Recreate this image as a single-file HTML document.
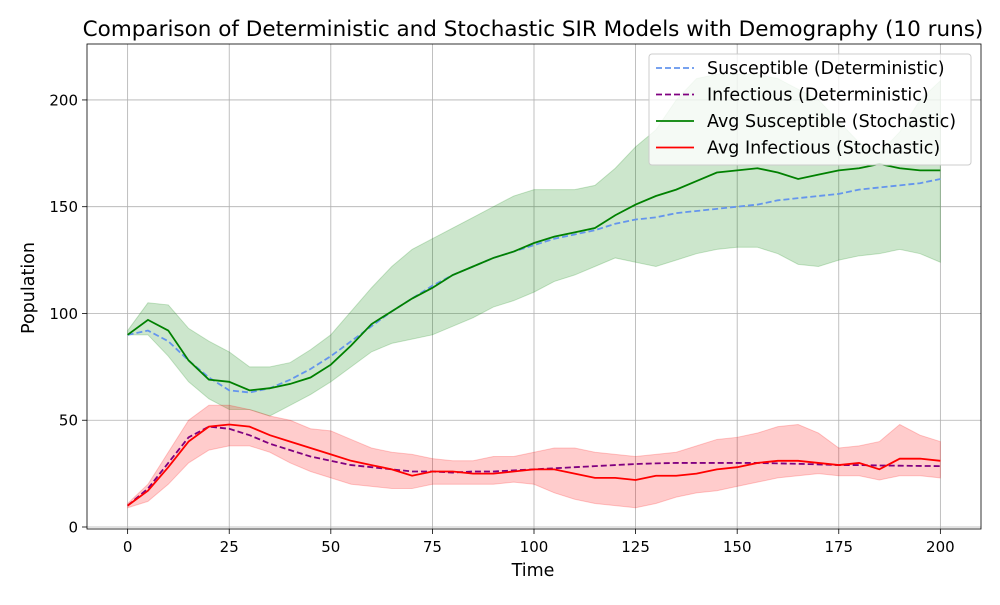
<!DOCTYPE html>
<html><head><meta charset="utf-8"><style>
body{margin:0;background:#fff;}
svg{font-family:"DejaVu Sans","Liberation Sans",sans-serif;}
</style></head><body>
<svg id="c" width="1000" height="600" xmlns="http://www.w3.org/2000/svg">
<rect width="1000" height="600" fill="#fff"/>
<text x="533" y="36" font-size="21.5" text-anchor="middle">Comparison of Deterministic and Stochastic SIR Models with Demography (10 runs)</text>
<g id="grid"></g><g id="bands"></g><g id="lines"></g><g id="axes"></g>
<text x="533" y="576" font-size="17.5" text-anchor="middle">Time</text>
<text x="34" y="288" font-size="17.5" text-anchor="middle" transform="rotate(-90 34 288)">Population</text>
<g id="legend"></g>
</svg>
<script>
const times=[0,5,10,15,20,25,30,35,40,45,50,55,60,65,70,75,80,85,90,95,100,105,110,115,120,125,130,135,140,145,150,155,160,165,170,175,180,185,190,195,200];
const detS=[90,92,87,78,70,64,63,65,69,74,80,87,94,101,107,113,118,122,126,129,132,135,137,139,142,144,145,147,148,149,150,151,153,154,155,156,158,159,160,161,163];
const detI=[10,18,30,42,47,46,43,39,36,33,31,29,28,27,26,26,25.5,26,26,26.5,27,27.5,28,28.5,29,29.5,29.8,30,30,30,30,30,29.8,29.6,29.3,29,29,28.8,28.7,28.6,28.5];
const avgS=[90,97,92,78,69,68,64,65,67,70,76,85,95,101,107,112,118,122,126,129,133,136,138,140,146,151,155,158,162,166,167,168,166,163,165,167,168,170,168,167,167];
const lowS=[90,90,80,68,60,55,55,52,57,62,68,75,82,86,88,90,94,98,103,106,110,115,118,122,126,124,122,125,128,130,131,131,128,123,122,125,127,128,130,128,124];
const highS=[92,105,104,93,87,82,75,75,77,83,90,101,112,122,130,135,140,145,150,155,158,158,158,160,168,178,186,200,210,212,212,212,210,205,200,190,180,175,185,200,209];
const avgI=[10,17,28,40,47,48,47,43,40,37,34,31,29,27,24,26,26,25,25,26,27,27,25,23,23,22,24,24,25,27,28,30,31,31,30,29,30,27,32,32,31];
const lowI=[9,12,20,30,36,38,38,35,30,26,23,20,19,18,18,20,20,20,20,21,20,16,13,11,10,9,11,14,16,17,19,21,23,24,25,24,24,22,24,24,23];
const highI=[11,20,35,50,57,57,55,52,50,46,45,41,37,35,34,32,31,31,33,33,35,37,37,35,34,33,34,35,38,41,42,44,47,48,44,37,38,40,48,43,40];
const xTicks=[0,25,50,75,100,125,150,175,200];
const yTicks=[0,50,100,150,200];
const L=87,R=981,T=44,B=529,x0=-10,x1=210,y0=-0.94,y1=226.2;
const X=v=>L+(v-x0)/(x1-x0)*(R-L), Y=v=>B-(v-y0)/(y1-y0)*(B-T);
const NS="http://www.w3.org/2000/svg";
function mk(tag,attrs,parent){const e=document.createElementNS(NS,tag);for(const k in attrs)e.setAttribute(k,attrs[k]);document.getElementById(parent).appendChild(e);return e;}
xTicks.forEach(t=>{
 const g=mk('line',{x1:X(t),x2:X(t),y1:T,y2:B,stroke:'#b0b0b0','stroke-width':0.8},'grid');
 
 
 mk('line',{x1:X(t),x2:X(t),y1:B,y2:B+5,stroke:'#000','stroke-width':0.8},'axes');
 const tx=mk('text',{x:X(t),y:B+23,'font-size':15,'text-anchor':'middle'},'axes');tx.textContent=t;
 
 
});
yTicks.forEach(t=>{
 const g=mk('line',{x1:L,x2:R,y1:Y(t),y2:Y(t),stroke:'#b0b0b0','stroke-width':0.8},'grid');
 
 
 mk('line',{x1:L-5,x2:L,y1:Y(t),y2:Y(t),stroke:'#000','stroke-width':0.8},'axes');
 const tx=mk('text',{x:L-9,y:Y(t)+5.5,'font-size':15,'text-anchor':'end'},'axes');tx.textContent=t;
 
 
});
const fr=mk('rect',{x:L,y:T,width:R-L,height:B-T,fill:'none',stroke:'#000','stroke-width':0.8},'axes');


function band(lo,hi,color){
 let d=times.map((t,i)=>(i?'L':'M')+X(t)+','+Y(hi[i])).join('');
 for(let i=times.length-1;i>=0;i--)d+='L'+X(times[i])+','+Y(lo[i]);
 return mk('path',{d:d+'Z',fill:color,'fill-opacity':0.2,stroke:color,'stroke-opacity':0.2},'bands');
}
const b1=band(lowS,highS,'green');


const b2=band(lowI,highI,'red');


function line(vals,color,dash){
 const d=times.map((t,i)=>(i?'L':'M')+X(t)+','+Y(vals[i])).join('');
 const a={d:d,fill:'none',stroke:color,'stroke-width':1.8};if(dash)a['stroke-dasharray']='6,3';
 return mk('path',a,'lines');
}
const l1=line(detS,'cornflowerblue',true);


const l2=line(detI,'purple',true);


const l3=line(avgS,'green',false);


const l4=line(avgI,'red',false);


mk('rect',{x:649,y:54,width:322,height:111,rx:3,fill:'#fff','fill-opacity':0.8,stroke:'#ccc'},'legend');
const entries=[['Susceptible (Deterministic)','cornflowerblue',true],['Infectious (Deterministic)','purple',true],['Avg Susceptible (Stochastic)','green',false],['Avg Infectious (Stochastic)','red',false]];
entries.forEach((e,i)=>{
 const y=68+i*26.5;
 const ln=mk('line',{x1:656,x2:694,y1:y,y2:y,stroke:e[1],'stroke-width':1.8},'legend');
 if(e[2])ln.setAttribute('stroke-dasharray','6,3');
 
 
 const t=mk('text',{x:707,y:y+6,'font-size':17.5},'legend');t.textContent=e[0];
 
 
});
</script>
</body></html>
